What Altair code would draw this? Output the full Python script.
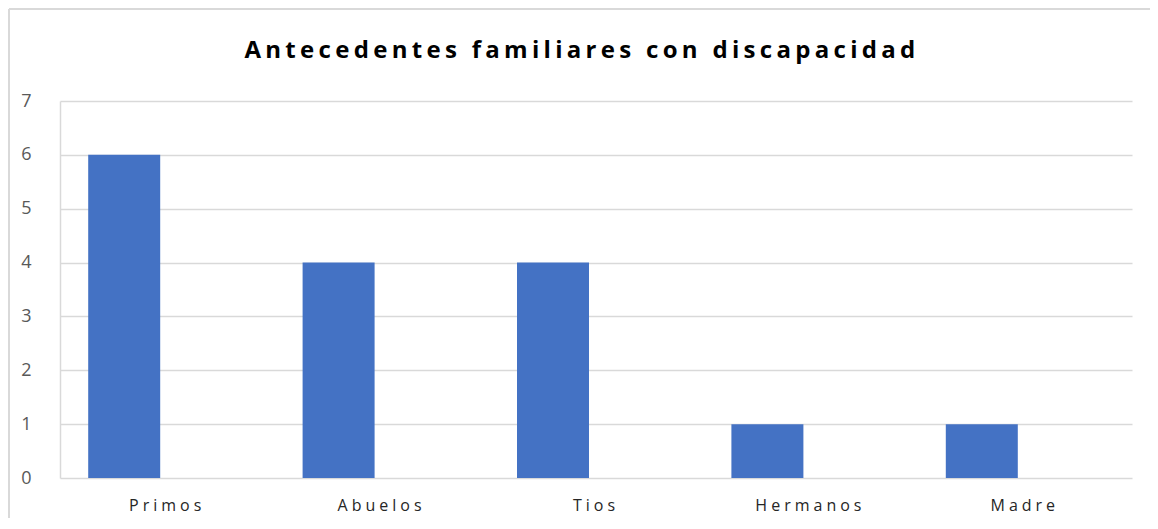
import altair as alt
import pandas as pd

categorias = ["Primos", "Abuelos", "Tios", "Hermanos", "Madre"]
valores = [6, 4, 4, 1, 1]
titulo = "Antecedentes familiares con discapacidad"

df = pd.DataFrame({"cat": categorias, "val": valores})

FONT = "Open Sans"

bars = alt.Chart(df).mark_bar(size=72, xOffset=-43, color="#4472C4").encode(
    x=alt.X("cat:N", sort=categorias, title=None,
            scale=alt.Scale(paddingInner=0, paddingOuter=0),
            axis=alt.Axis(labelAngle=0, ticks=False, domain=False, grid=False,
                          labelFont=FONT, labelFontSize=16, labelColor="#262626",
                          labelPadding=19)),
    y=alt.Y("val:Q", title=None,
            scale=alt.Scale(domain=[0, 7], nice=False),
            axis=alt.Axis(values=[0, 1, 2, 3, 4, 5, 6, 7], ticks=False,
                          domain=True, domainColor="#D9D9D9", domainWidth=1.5,
                          grid=True, gridColor="#D9D9D9", gridWidth=1.5,
                          labelFont=FONT, labelFontSize=18, labelColor="#595959",
                          labelPadding=25)),
)

border_top = alt.Chart(df).mark_rule(color="#D9D9D9", strokeWidth=1.5).encode(
    x=alt.value(-51), x2=alt.value(1200), y=alt.value(-92)
)
border_left = alt.Chart(df).mark_rule(color="#D9D9D9", strokeWidth=1.5).encode(
    x=alt.value(-51), y=alt.value(-92), y2=alt.value(430)
)

chart = alt.layer(bars, border_top, border_left).properties(
    width=1072,
    height=377,
    autosize=alt.AutoSizeParams(type="none"),
    padding={"left": 52, "top": 93, "right": 18, "bottom": 40},
    title=alt.TitleParams(titulo, font=FONT, fontSize=24, fontWeight="bold",
                          color="#000000", anchor="middle", dx=-14, offset=-74,
                          baseline="alphabetic"),
).configure_view(stroke=None)

css = (".role-title-text text { letter-spacing: 4.3px; } "
       ".role-axis-label text { letter-spacing: 4px; }")

chart.save("out.html", embed_options={"renderer": "svg", "actions": False,
                                      "defaultStyle": css})
